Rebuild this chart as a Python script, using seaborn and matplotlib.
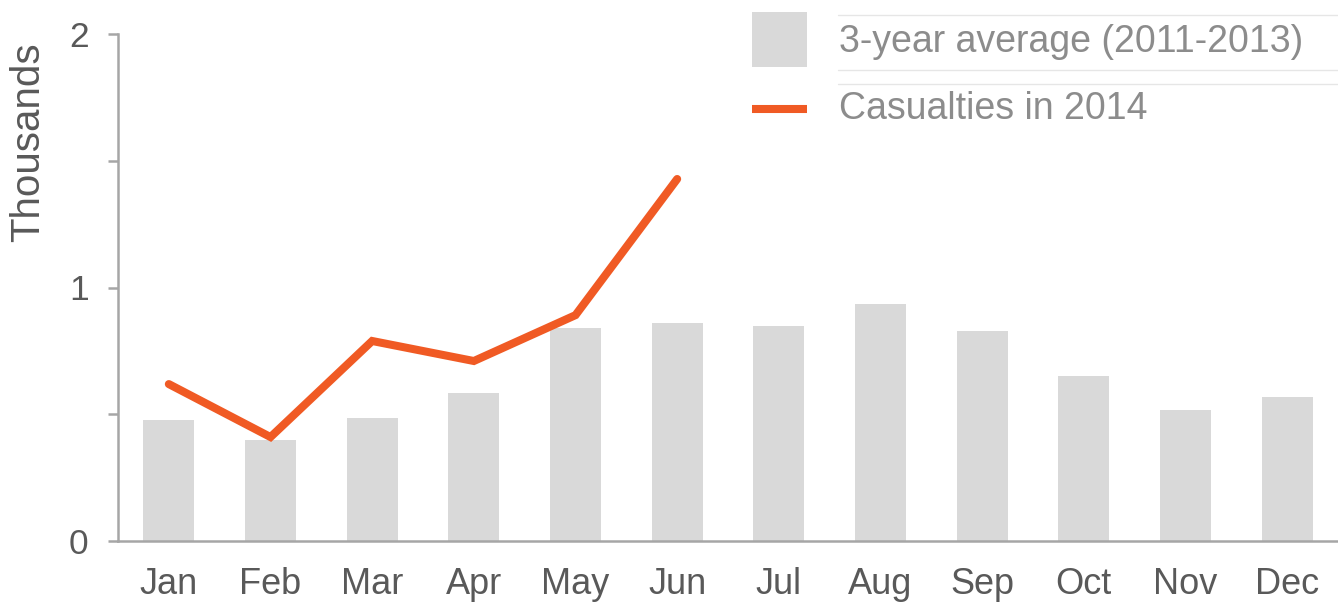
import numpy as np
import pandas as pd
import matplotlib
matplotlib.use("Agg")
import matplotlib.pyplot as plt
from matplotlib.lines import Line2D
from matplotlib.patches import Patch
from matplotlib.legend_handler import HandlerLine2D
import seaborn as sns

months = ["Jan", "Feb", "Mar", "Apr", "May", "Jun", "Jul", "Aug", "Sep", "Oct", "Nov", "Dec"]
avg_2011_2013 = [0.477, 0.398, 0.485, 0.584, 0.840, 0.860, 0.848, 0.935, 0.828, 0.651, 0.517, 0.568]
casualties_2014 = [0.619, 0.410, 0.789, 0.710, 0.891, 1.428]
yticks = [0, 0.5, 1, 1.5, 2]
yticklabels = ["0", "", "1", "", "2"]

sns.set_theme(style="white")
plt.rcParams['font.family'] = ['Liberation Sans', 'DejaVu Sans']

BAR_C = "#D9D9D9"
LINE_C = "#F05A24"
AXIS_C = "#A6A6A6"
TXT_C = "#595959"
LEG_C = "#8C8C8C"


class LoweredLine(HandlerLine2D):
    def __init__(self, shift, **kw):
        super().__init__(**kw)
        self.shift = shift

    def create_artists(self, legend, orig_handle, xdescent, ydescent, width,
                       height, fontsize, trans):
        arts = super().create_artists(legend, orig_handle, xdescent, ydescent,
                                      width, height, fontsize, trans)
        for a in arts:
            if isinstance(a, Line2D):
                a.set_ydata(np.asarray(a.get_ydata(), dtype=float) - self.shift)
        return arts


fig = plt.figure(figsize=(13.38, 6.02), dpi=100)
ax = fig.add_axes([118/1338, 61/602, 1220/1338, 507/602])

df_bar = pd.DataFrame({"month": months, "value": avg_2011_2013})
sns.barplot(data=df_bar, x="month", y="value", color=BAR_C, width=0.5,
            saturation=1, ax=ax, edgecolor="none")

df_line = pd.DataFrame({"pos": np.arange(len(casualties_2014)), "value": casualties_2014})
sns.lineplot(data=df_line, x="pos", y="value", color=LINE_C, linewidth=5.8,
             ax=ax, solid_capstyle="round", solid_joinstyle="miter")

ax.set_xlim(-0.5, len(months) - 0.5)
ax.set_ylim(0, 2)
ax.set_yticks(yticks)
ax.set_yticklabels(yticklabels)
ax.set_xticks(range(len(months)))
ax.set_xticklabels(months)

for s in ["top", "right"]:
    ax.spines[s].set_visible(False)
for s in ["left", "bottom"]:
    ax.spines[s].set_color(AXIS_C)
    ax.spines[s].set_linewidth(1.8)

ax.tick_params(axis="y", direction="out", length=7.2, width=1.8, color=AXIS_C,
               labelsize=25.5, labelcolor=TXT_C, pad=14, left=True)
ax.tick_params(axis="x", length=0, labelsize=26, labelcolor=TXT_C, pad=19)

ax.set_xlabel("")
ax.set_ylabel("Thousands", fontsize=29, color=TXT_C)
ax.yaxis.set_label_coords(-0.058, 0.787)

line_handle = Line2D([0], [0], color=LINE_C, linewidth=5.8, solid_capstyle="butt")
handles = [Patch(facecolor=BAR_C, edgecolor="none"), line_handle]
labels = ["3-year average (2011-2013)", "Casualties in 2014"]
leg = ax.legend(handles, labels, loc="upper left", bbox_to_anchor=(752/1338, 1 - 12/602),
                bbox_transform=fig.transFigure, frameon=False, fontsize=27,
                handlelength=1.47, handleheight=1.88, handletextpad=0.85,
                labelspacing=0.32, borderpad=0, borderaxespad=0,
                handler_map={line_handle: LoweredLine(shift=7.2)})
for t in leg.get_texts():
    t.set_color(LEG_C)

# decorative separator lines in the legend area
for ypx in [15, 70, 84]:
    fig.add_artist(Line2D([838/1338, 1.0], [1 - ypx/602, 1 - ypx/602],
                          transform=fig.transFigure, color="#E6E6E6", linewidth=1.0))

fig.savefig("out.png", dpi=100)
